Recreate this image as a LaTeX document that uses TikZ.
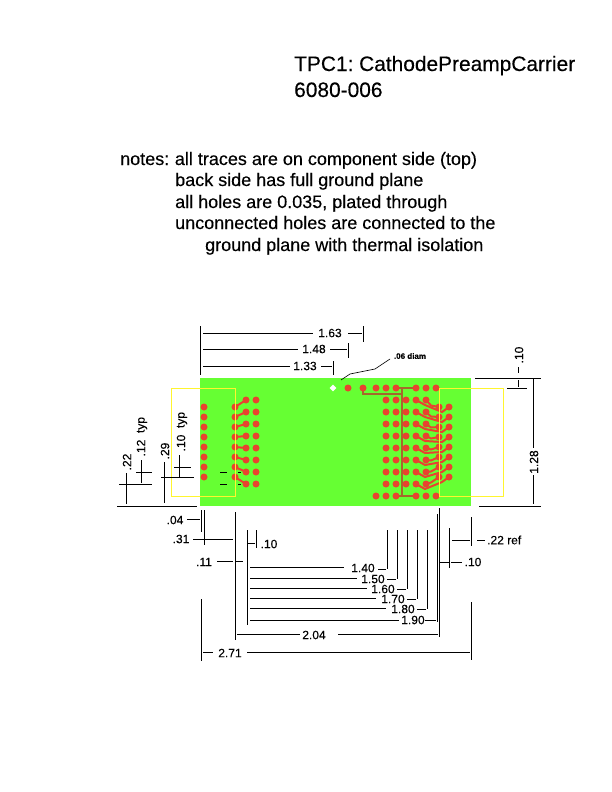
\documentclass[tikz,border=0pt]{standalone}
\usepackage{fontspec}
\setmainfont{Liberation Sans}[FakeBold=0.25]
\usetikzlibrary{shapes.geometric}
\definecolor{board}{HTML}{66FF33}
\definecolor{pad}{HTML}{E8432F}
\definecolor{brown}{HTML}{A5692B}
\definecolor{outl}{HTML}{FFF52E}
\tikzset{
  dim/.style={draw=black,line width=0.9pt},
  padhole/.style={fill=pad,draw=none},
  redtrace/.style={draw=pad,line width=2pt},
  browntrace/.style={draw=brown,line width=1.5pt},
  yellowbox/.style={draw=outl,line width=0.8pt},
  title/.style={anchor=base west,inner sep=0pt,font=\fontsize{20.9}{21}\selectfont},
  note/.style={anchor=base west,inner sep=0pt,font=\fontsize{18}{18}\selectfont},
  lbl/.style={inner sep=0pt,font=\fontsize{12}{12}\selectfont},
  rlbl/.style={lbl,rotate=90}
}
\begin{document}
\begin{tikzpicture}[x=1pt,y=-1pt]
\useasboundingbox (0,0) rectangle (612,792);
\fill[white] (0,0) rectangle (612,792);
% titles
\node[title] (t1) at (294,71) {TPC1:\kern-2pt{} CathodePreampCarrier};
\node[title] (t2) at (294,97) {6080-006};
\node[note] (n1) at (120,165) {notes:\kern-1pt{} all traces are on component side (top)};
\node[note] (n2) at (175,186) {back side has full ground plane};
\node[note] (n3) at (175,208) {all holes are 0.035, plated through};
\node[note] (n4) at (175,229) {unconnected holes are connected to the};
\node[note] (n5) at (205,251) {ground plane with thermal isolation};
% board
\fill[board] (200,378) rectangle (471,506);
% brown traces
\draw[browntrace] (363,388) -- (363,394) -- (402,394);
\draw[browntrace] (402,388) -- (402,496);
\draw[browntrace] (396,388) -- (416,388);
\draw[browntrace] (396,496) -- (416,496);
% left group
\foreach \i in {0,...,7}{
  \pgfmathsetmacro{\ya}{407+10*\i}
  \pgfmathsetmacro{\yb}{400+12*\i}
  \fill[padhole] (204,\ya) circle (3.5pt);
  \fill[padhole] (235,\ya) circle (3.5pt);
  \draw[redtrace] (235,\ya) -- (246,\yb);
  \fill[padhole] (246,\yb) circle (3.5pt);
  \fill[padhole] (256,\yb) circle (3.5pt);
}
% right group
\foreach \i in {0,...,7}{
  \pgfmathsetmacro{\ya}{407+10*\i}
  \pgfmathsetmacro{\yb}{400+12*\i}
  \pgfmathsetmacro{\ym}{(\ya+\yb)/2+2}
  \pgfmathsetmacro{\yc}{\yb+5}
  \pgfmathsetmacro{\yd}{\ya+5}
  \foreach \x in {386,396,406,416,426}{\fill[padhole] (\x,\yb) circle (3.5pt);}
  \fill[padhole] (439,\ya) circle (3.5pt);
  \fill[padhole] (449,\ya) circle (3.5pt);
  \draw[redtrace] (426,\yb) -- (431,\ym) -- (439,\ya);
  \draw[redtrace] (416,\yb) -- (425,\yc) -- (442,\yd) -- (449,\ya);
}
\foreach \x in {348,363,376,386,396,416,426,436}{\fill[padhole] (\x,388) circle (3.5pt);}
\foreach \x in {376,386,396,416,426,436}{\fill[padhole] (\x,496) circle (3.5pt);}
\node[diamond,aspect=1,fill=white,inner sep=0pt,minimum size=7pt] (wh) at (333,388) {};
% yellow outlines
\draw[yellowbox] (171,388) rectangle (235,496);
\draw[yellowbox] (439,388) rectangle (503,496);
% dimensions: top
\draw[dim] (200,326) -- (200,375);
\draw[dim] (203,333) -- (313,333) (348,333) -- (362,333) (363,326) -- (363,342);
\draw[dim] (203,349) -- (298,349) (330,349) -- (347,349) (348,343) -- (348,358);
\draw[dim] (203,366) -- (290,366) (321,366) -- (332,366) (333,361) -- (333,375);
\node[lbl] (d163) at (330,333) {1.63};
\node[lbl] (d148) at (314,349) {1.48};
\node[lbl] (d133) at (305,366) {1.33};
\draw[line width=0.6pt] (341,380) -- (350,374) -- (375,369) -- (390,359);
\node[inner sep=0pt,font=\bfseries\fontsize{8}{8}\selectfont] (diam) at (410,356) {.06 diam};
% right
\draw[dim] (475,378) -- (541,378) (507,388) -- (527,388) (479,506) -- (541,506);
\draw[dim] (518,367) -- (518,373) (518,380) -- (518,387);
\node[rlbl] (r10) at (519,355) {.10};
\draw[dim] (533,378) -- (533,448) (533,475) -- (533,504);
\node[rlbl] (r128) at (534,462) {1.28};
% left
\draw[dim] (117,506) -- (197,506);
\draw[dim] (126,473) -- (126,504) (119,484) -- (152,484);
\draw[dim] (141,460) -- (141,483) (136,472) -- (152,472);
\draw[dim] (164,462) -- (164,503) (161,477) -- (194,477);
\draw[dim] (179,455) -- (179,477) (174,467) -- (191,467);
\node[rlbl] (l22) at (127,462) {.22};
\node[rlbl] (l12) at (141,448) {.12};
\node[rlbl] (l12t) at (142,425) {typ};
\node[rlbl] (l29) at (165,451) {.29};
\node[rlbl] (l10) at (181,443) {.10};
\node[rlbl] (l10t) at (182,420) {typ};
\draw[dim] (220,472) -- (227,472) (220,484) -- (227,484) (238,472) -- (241,472) (238,484) -- (241,484);
% bottom left
\draw[dim] (187,519) -- (200,519) (201,510) -- (201,532) (204,510) -- (204,545);
\node[lbl] (b04) at (175,520) {.04};
\draw[dim] (193,539) -- (233,539);
\node[lbl] (b31) at (181,539) {.31};
\draw[dim] (235,512) -- (235,640) (247,530) -- (247,625);
\draw[dim] (247,543) -- (255,543) (256,530) -- (256,548);
\node[lbl] (b10) at (269,544) {.10};
\draw[dim] (217,561) -- (233,561) (235,561) -- (243,561);
\node[lbl] (b11) at (204,562) {.11};
% stacked dims
\draw[dim] (250,567) -- (344,567) (378,569) -- (386,569) (387,530) -- (387,569);
\draw[dim] (250,578) -- (357,578) (387,579) -- (396,579) (397,530) -- (397,579);
\draw[dim] (250,588) -- (367,588) (397,589) -- (406,589) (407,530) -- (407,589);
\draw[dim] (250,598) -- (376,598) (407,599) -- (416,599) (417,530) -- (417,599);
\draw[dim] (250,608) -- (386,608) (417,609) -- (426,609) (427,530) -- (427,609);
\draw[dim] (250,620) -- (399,620) (425,620) -- (436,620) (437,514) -- (437,622);
\node[lbl] (s140) at (363,568) {1.40};
\node[lbl] (s150) at (373,579) {1.50};
\node[lbl] (s160) at (383,589) {1.60};
\node[lbl] (s170) at (393,599) {1.70};
\node[lbl] (s180) at (403,609) {1.80};
\node[lbl] (s190) at (413,620) {1.90};
\draw[dim] (237,634) -- (300,634) (338,634) -- (438,634) (439,508) -- (439,637);
\node[lbl] (b204) at (314,635) {2.04};
\draw[dim] (201,599) -- (201,661) (203,652) -- (213,652) (247,652) -- (470,652) (471,602) -- (471,660);
\node[lbl] (b271) at (230,653) {2.71};
% bottom right
\draw[dim] (439,562) -- (449,562) (449,528) -- (449,568) (451,562) -- (462,562);
\node[lbl] (br10) at (473,562) {.10};
\draw[dim] (471,517) -- (471,546) (452,540) -- (470,540) (477,540) -- (485,540);
\node[lbl,anchor=west] (br22) at (487,540) {.22 ref};
\end{tikzpicture}
\end{document}
